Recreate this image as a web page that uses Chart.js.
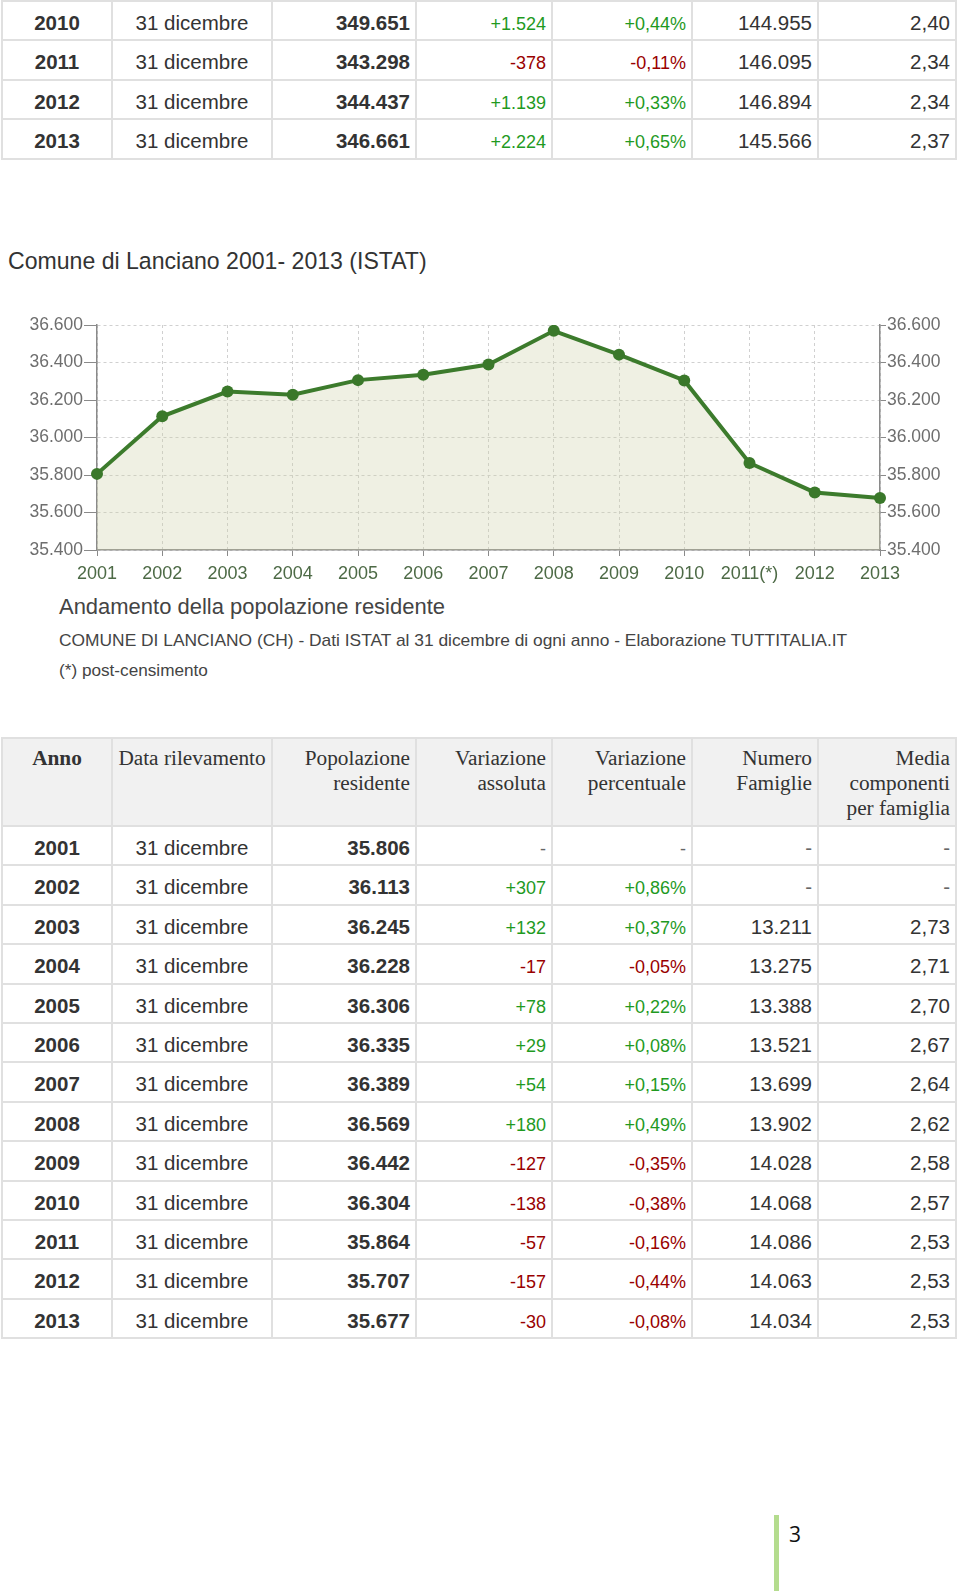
<!DOCTYPE html>
<html>
<head>
<meta charset="utf-8">
<script src="https://cdn.jsdelivr.net/npm/chart.js@4"></script>
<style>
	body { margin: 0; width: 960px; height: 1591px; background: #fff; position: relative; overflow: hidden; font-family: "Liberation Sans", Arial, sans-serif; color: #333; }
	.abs { position: absolute; white-space: nowrap; }
	table { position: absolute; left: 1px; border-collapse: collapse; table-layout: fixed; width: 956px; }
	td, th { border: 2px solid #e0e0e0; padding: 0 5px 0 5px; overflow: hidden; white-space: nowrap; }
	td { font-size: 20.5px; vertical-align: baseline; box-sizing: content-box; height: 28.4px; line-height: 24px; padding-top: 9px; text-align: right; }
	td.anno { font-weight: bold; text-align: center; }
	td.data { text-align: center; }
	td.pop { font-weight: bold; }
	td.col { font-size: 18px; }
	.pos { color: #1f9a1f; }
	.neg { color: #990000; }
	.nd { color: #666; }
	th { font-family: "Liberation Serif", "Times New Roman", serif; font-weight: normal; font-size: 21.3px; line-height: 25px; vertical-align: top; text-align: right; padding-top: 7px; background: #f1f1f1; height: 79px; color: #333; }
	th.anno { font-weight: bold; text-align: center; }
	th.data { text-align: center; }
	#bar { position: absolute; left: 774px; top: 1515px; width: 5px; height: 76px; background: #b4dc8e; }
</style>
</head>
<body>

<table id="topTable"></table>

<div class="abs" id="titolo" style="left:8px; top:246px; height:30px; line-height:30px; font-size:22.5px; color:#333;">Comune di Lanciano 2001- 2013 (ISTAT)</div>

<canvas id="chart" width="960" height="290" style="position:absolute; left:0; top:300px;"></canvas>

<div class="abs" id="cap1" style="left:59px; top:592px; height:30px; line-height:30px; font-size:22px; color:#444;">Andamento della popolazione residente</div>
<div class="abs" id="cap2" style="left:59px; top:630px; height:20px; line-height:20px; font-size:16px; color:#444;">COMUNE DI LANCIANO (CH) - Dati ISTAT al 31 dicembre di ogni anno - Elaborazione TUTTITALIA.IT</div>
<div class="abs" id="cap3" style="left:59px; top:660px; height:20px; line-height:20px; font-size:16px; color:#444;">(*) post-censimento</div>

<table id="bottomTable" style="top:737px;"></table>

<div id="bar"></div>
<div class="abs" style="left:789px; top:1521px; height:26px; line-height:26px; font-size:21px; color:#111; font-family:'Open Sans', sans-serif;">3</div>

<script>
// dati grafico
const anni = ['2001', '2002', '2003', '2004', '2005', '2006', '2007', '2008', '2009', '2010', '2011(*)', '2012', '2013'];
const popolazione = [35806, 36113, 36245, 36228, 36306, 36335, 36389, 36569, 36442, 36304, 35864, 35707, 35677];
const yMin = 35400;
const yMax = 36600;
const yStep = 200;

// tabella 2001-2013
const varAssoluta = ['-', '+307', '+132', '-17', '+78', '+29', '+54', '+180', '-127', '-138', '-57', '-157', '-30'];
const varPercentuale = ['-', '+0,86%', '+0,37%', '-0,05%', '+0,22%', '+0,08%', '+0,15%', '+0,49%', '-0,35%', '-0,38%', '-0,16%', '-0,44%', '-0,08%'];
const famiglie = ['-', '-', '13.211', '13.275', '13.388', '13.521', '13.699', '13.902', '14.028', '14.068', '14.086', '14.063', '14.034'];
const mediaComp = ['-', '-', '2,73', '2,71', '2,70', '2,67', '2,64', '2,62', '2,58', '2,57', '2,53', '2,53', '2,53'];

// tabella in alto (continua dalla pagina precedente)
const anniTop = ['2010', '2011', '2012', '2013'];
const popTop = ['349.651', '343.298', '344.437', '346.661'];
const varAssTop = ['+1.524', '-378', '+1.139', '+2.224'];
const varPercTop = ['+0,44%', '-0,11%', '+0,33%', '+0,65%'];
const famTop = ['144.955', '146.095', '146.894', '145.566'];
const mediaTop = ['2,40', '2,34', '2,34', '2,37'];

const colWidths = [110, 160, 144, 136, 140, 126, 138];

function punti(n) {
	return String(n).replace(/\B(?=(\d{3})+(?!\d))/g, '.');
}

function segno(v) {
	if (v === '-') return 'nd';
	return v.charAt(0) === '-' ? 'neg' : 'pos';
}

function colgroup() {
	return '<colgroup>' + colWidths.map(function (w) { return '<col style="width:' + w + 'px">'; }).join('') + '</colgroup>';
}

function riga(anno, pop, va, vp, fam, med) {
	return '<tr>' +
		'<td class="anno">' + anno + '</td>' +
		'<td class="data">31 dicembre</td>' +
		'<td class="pop">' + pop + '</td>' +
		'<td class="col ' + segno(va) + '">' + va + '</td>' +
		'<td class="col ' + segno(vp) + '">' + vp + '</td>' +
		'<td class="' + (fam === '-' ? 'nd' : '') + '">' + fam + '</td>' +
		'<td class="' + (med === '-' ? 'nd' : '') + '">' + med + '</td>' +
		'</tr>';
}

let html = colgroup();
for (let i = 0; i < anniTop.length; i++) {
	html += riga(anniTop[i], popTop[i], varAssTop[i], varPercTop[i], famTop[i], mediaTop[i]);
}
document.getElementById('topTable').innerHTML = html;

html = colgroup() + '<tr>' +
	'<th class="anno">Anno</th>' +
	'<th class="data">Data rilevamento</th>' +
	'<th>Popolazione<br>residente</th>' +
	'<th>Variazione<br>assoluta</th>' +
	'<th>Variazione<br>percentuale</th>' +
	'<th>Numero<br>Famiglie</th>' +
	'<th>Media<br>componenti<br>per famiglia</th>' +
	'</tr>';
for (let i = 0; i < anni.length; i++) {
	html += riga(anni[i].substring(0, 4), punti(popolazione[i]), varAssoluta[i], varPercentuale[i], famiglie[i], mediaComp[i]);
}
document.getElementById('bottomTable').innerHTML = html;

// adatta la larghezza dei testi
function fit(id, w) {
	const el = document.getElementById(id);
	const r = el.getBoundingClientRect().width;
	el.style.fontSize = (parseFloat(getComputedStyle(el).fontSize) * w / r) + 'px';
}
fit('titolo', 419);
fit('cap1', 386);
fit('cap2', 789);
fit('cap3', 149);

const ctx = document.getElementById('chart').getContext('2d');
const chart = new Chart(ctx, {
	type: 'line',
	data: {
		labels: anni,
		datasets: [{
			data: popolazione,
			borderColor: '#3c7b2c',
			borderWidth: 4,
			backgroundColor: 'rgba(205,210,170,0.33)',
			fill: 'start',
			tension: 0,
			pointRadius: 6,
			pointBackgroundColor: '#3a782a',
			pointBorderColor: '#3a782a',
			pointBorderWidth: 0
		}]
	},
	options: {
		responsive: false,
		animation: false,
		layout: { padding: { top: 25, left: 0, right: 0, bottom: 0 } },
		plugins: { legend: { display: false }, tooltip: { enabled: false } },
		scales: {
			x: {
				afterFit: function (s) { s.height = 40; },
				grid: { color: '#d0d0d0', tickLength: 6, tickColor: '#8a8a8a' },
				border: { color: '#8a8a8a', width: 1.5, dash: [3, 3] },
				ticks: { color: '#4d6a46', padding: 7, font: { family: 'Liberation Sans', size: 18 }, maxRotation: 0, autoSkip: false }
			},
			y: {
				position: 'left',
				min: yMin,
				max: yMax,
				afterFit: function (s) { s.width = 97; },
				grid: { color: '#d0d0d0', tickLength: 13, tickColor: '#8a8a8a' },
				border: { color: '#8a8a8a', width: 1.5, dash: [3, 3] },
				ticks: { stepSize: yStep, color: '#6e6e6e', padding: 1, font: { family: 'Liberation Sans', size: 17.5 }, callback: function (v) { return punti(v); } }
			},
			y2: {
				position: 'right',
				min: yMin,
				max: yMax,
				afterFit: function (s) { s.width = 80; },
				grid: { drawOnChartArea: false, tickLength: 6, tickColor: '#8a8a8a' },
				border: { color: '#8a8a8a', width: 1.5 },
				ticks: { stepSize: yStep, color: '#6e6e6e', padding: 1, font: { family: 'Liberation Sans', size: 17.5 }, callback: function (v) { return punti(v); } }
			}
		}
	}
});
</script>
</body>
</html>
